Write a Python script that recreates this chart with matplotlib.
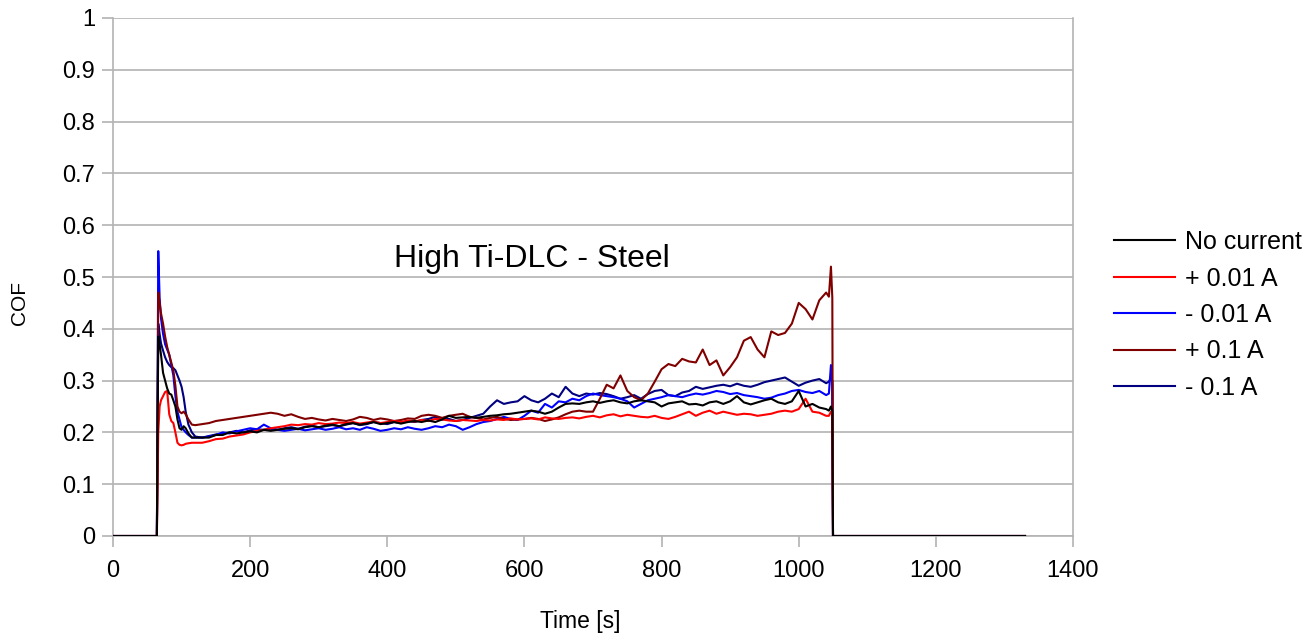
import numpy as np
import matplotlib
matplotlib.use("Agg")
import matplotlib.pyplot as plt

plt.rcParams["font.family"] = ["Liberation Sans", "DejaVu Sans"]

# --- sampling times [s]: start-up, steady sliding, stop ---
t_start = [0, 60, 64, 66, 68, 70, 73, 76, 79, 82, 85, 88, 91, 94, 97, 100, 103, 106, 110, 115, 120]
t_run = list(range(130, 1041, 10))
t_stop = [1044, 1047, 1049, 1050, 1060, 1330]
time_s = np.array(t_start + t_run + t_stop)

# --- COF per test condition ---
cof_none = (
    [0, 0, 0, 0.385, 0.37, 0.35, 0.315, 0.30, 0.285, 0.275, 0.273, 0.262, 0.25, 0.225, 0.208, 0.205, 0.212, 0.208, 0.198, 0.19, 0.19]
    + [0.19, 0.19, 0.195, 0.195, 0.2, 0.198, 0.2, 0.202, 0.2, 0.205,
       0.203, 0.205, 0.207, 0.208, 0.206, 0.21, 0.212, 0.21, 0.213, 0.215,
       0.212, 0.216, 0.218, 0.215, 0.217, 0.22, 0.216, 0.218, 0.22, 0.217,
       0.22, 0.222, 0.22, 0.223, 0.22, 0.225, 0.232, 0.228, 0.229, 0.23,
       0.228, 0.23, 0.232, 0.233, 0.235, 0.236, 0.238, 0.24, 0.242, 0.24,
       0.236, 0.24, 0.248, 0.255, 0.256, 0.255, 0.258, 0.26, 0.257, 0.26,
       0.262, 0.258, 0.256, 0.26, 0.262, 0.26, 0.258, 0.25, 0.256, 0.258,
       0.26, 0.254, 0.255, 0.252, 0.258, 0.26, 0.255, 0.26, 0.27, 0.258,
       0.254, 0.258, 0.262, 0.265, 0.258, 0.255, 0.26, 0.28, 0.25, 0.255,
       0.248, 0.245]
    + [0.242, 0.25, 0.24, 0, 0, 0]
)
cof_p001 = (
    [0, 0, 0, 0.2, 0.25, 0.262, 0.27, 0.278, 0.28, 0.235, 0.222, 0.218, 0.20, 0.18, 0.176, 0.175, 0.176, 0.178, 0.179, 0.18, 0.18]
    + [0.18, 0.183, 0.187, 0.188, 0.192, 0.194, 0.196, 0.2, 0.203, 0.205,
       0.208, 0.21, 0.212, 0.215, 0.214, 0.216, 0.215, 0.218, 0.216, 0.217,
       0.219, 0.218, 0.22, 0.217, 0.219, 0.221, 0.218, 0.22, 0.222, 0.22,
       0.223, 0.221, 0.224, 0.222, 0.226, 0.225, 0.223, 0.222, 0.224, 0.223,
       0.222, 0.224, 0.223, 0.225, 0.224, 0.227, 0.225, 0.226, 0.227, 0.225,
       0.229, 0.227, 0.226, 0.228, 0.229, 0.227, 0.23, 0.232, 0.229, 0.233,
       0.235, 0.231, 0.234, 0.232, 0.23, 0.229, 0.232, 0.228, 0.226, 0.23,
       0.235, 0.24, 0.232, 0.238, 0.242, 0.236, 0.24, 0.237, 0.234, 0.236,
       0.235, 0.232, 0.234, 0.236, 0.24, 0.242, 0.24, 0.245, 0.265, 0.24,
       0.238, 0.232]
    + [0.232, 0.24, 0.235, 0, 0, 0]
)
cof_m001 = (
    [0, 0, 0, 0.55, 0.46, 0.42, 0.39, 0.37, 0.36, 0.35, 0.33, 0.31, 0.27, 0.24, 0.225, 0.21, 0.205, 0.2, 0.195, 0.19, 0.19]
    + [0.19, 0.192, 0.195, 0.2, 0.198, 0.202, 0.205, 0.208, 0.206, 0.215,
       0.208, 0.205, 0.203, 0.205, 0.207, 0.204, 0.206, 0.208, 0.205, 0.207,
       0.21, 0.206, 0.208, 0.205, 0.21, 0.207, 0.203, 0.205, 0.208, 0.206,
       0.21, 0.207, 0.205, 0.208, 0.212, 0.21, 0.215, 0.212, 0.205, 0.21,
       0.216, 0.22, 0.222, 0.226, 0.23, 0.226, 0.224, 0.232, 0.242, 0.238,
       0.255, 0.248, 0.26, 0.258, 0.265, 0.262, 0.27, 0.275, 0.272, 0.27,
       0.268, 0.265, 0.26, 0.248, 0.255, 0.262, 0.265, 0.268, 0.272, 0.27,
       0.268, 0.272, 0.275, 0.273, 0.276, 0.28, 0.278, 0.274, 0.276, 0.272,
       0.27, 0.268, 0.265, 0.267, 0.272, 0.275, 0.28, 0.282, 0.278, 0.276,
       0.28, 0.272]
    + [0.275, 0.33, 0.29, 0, 0, 0]
)
cof_p01 = (
    [0, 0, 0, 0.47, 0.45, 0.43, 0.41, 0.385, 0.365, 0.35, 0.335, 0.32, 0.29, 0.25, 0.24, 0.237, 0.24, 0.235, 0.225, 0.215, 0.214]
    + [0.216, 0.218, 0.222, 0.224, 0.226, 0.228, 0.23, 0.232, 0.234, 0.236,
       0.238, 0.236, 0.232, 0.235, 0.23, 0.226, 0.228, 0.225, 0.223, 0.226,
       0.224, 0.222, 0.225, 0.23, 0.228, 0.224, 0.227, 0.225, 0.222, 0.224,
       0.227, 0.226, 0.232, 0.234, 0.232, 0.228, 0.232, 0.234, 0.236, 0.23,
       0.228, 0.225, 0.228, 0.23, 0.226, 0.224, 0.225, 0.226, 0.228, 0.226,
       0.222, 0.225, 0.229, 0.235, 0.24, 0.242, 0.24, 0.24, 0.265, 0.292,
       0.285, 0.31, 0.28, 0.268, 0.262, 0.275, 0.298, 0.322, 0.332, 0.328,
       0.342, 0.337, 0.335, 0.36, 0.33, 0.339, 0.31, 0.326, 0.345, 0.377,
       0.384, 0.36, 0.345, 0.395, 0.388, 0.392, 0.41, 0.45, 0.438, 0.418,
       0.455, 0.47]
    + [0.462, 0.52, 0.46, 0, 0, 0]
)
cof_m01 = (
    [0, 0, 0, 0.41, 0.39, 0.372, 0.358, 0.345, 0.336, 0.33, 0.326, 0.324, 0.32, 0.31, 0.3, 0.288, 0.268, 0.24, 0.215, 0.2, 0.192]
    + [0.19, 0.193, 0.196, 0.198, 0.2, 0.203, 0.2, 0.204, 0.206, 0.205,
       0.207, 0.205, 0.208, 0.21, 0.207, 0.211, 0.213, 0.21, 0.212, 0.214,
       0.212, 0.215, 0.218, 0.214, 0.216, 0.22, 0.218, 0.216, 0.22, 0.218,
       0.222, 0.22, 0.224, 0.226, 0.23, 0.225, 0.226, 0.222, 0.224, 0.228,
       0.232, 0.236, 0.25, 0.262, 0.255, 0.258, 0.26, 0.27, 0.262, 0.258,
       0.265, 0.275, 0.268, 0.288, 0.275, 0.27, 0.275, 0.273, 0.276, 0.274,
       0.27, 0.265, 0.268, 0.272, 0.265, 0.274, 0.28, 0.282, 0.272, 0.27,
       0.277, 0.28, 0.288, 0.284, 0.287, 0.29, 0.292, 0.289, 0.294, 0.29,
       0.288, 0.292, 0.297, 0.3, 0.303, 0.306, 0.298, 0.29, 0.296, 0.3,
       0.303, 0.295]
    + [0.298, 0.305, 0.3, 0, 0, 0]
)

labels = ["No current", "+ 0.01 A", "- 0.01 A", "+ 0.1 A", "- 0.1 A"]
series = [cof_none, cof_p001, cof_m001, cof_p01, cof_m01]
colors = ["#000000", "#ff0000", "#0000ff", "#800000", "#000080"]
layer = [10, 9, 7, 8, 6]

fig = plt.figure(figsize=(13.13, 6.39), dpi=100)
ax = fig.add_axes([113 / 1313, 1 - 536 / 639, 960 / 1313, 518 / 639])

for vals, lab, col, z in zip(series, labels, colors, layer):
    ax.plot(time_s, vals, color=col, lw=1.5, label=lab, zorder=z)

grid_col = "#b3b3b3"
ax.set_xlim(0, 1400)
ax.set_ylim(0, 1)
ax.set_xticks(range(0, 1401, 200))
ax.set_yticks(np.arange(0, 1.01, 0.1))
ax.set_yticklabels(["0", "0.1", "0.2", "0.3", "0.4", "0.5", "0.6", "0.7", "0.8", "0.9", "1"])
ax.yaxis.grid(True, color=grid_col, lw=1.2)
ax.set_axisbelow(True)
for side in ["left", "right", "bottom"]:
    ax.spines[side].set_color(grid_col)
    ax.spines[side].set_linewidth(1.2)
ax.spines["top"].set_visible(False)
ax.tick_params(axis="both", colors=grid_col, labelcolor="black", labelsize=17,
               length=8, width=1.2)
ax.tick_params(axis="x", pad=9)
ax.tick_params(axis="y", pad=5)

ax.set_xlabel("Time [s]", fontsize=16.5)
ax.set_ylabel("COF", fontsize=15)
ax.xaxis.set_label_coords(0.487, -0.143)
ax.yaxis.set_label_coords(-0.088, 0.45)

ax.text(0.4365, 0.535, "High Ti-DLC - Steel", transform=ax.transAxes,
        ha="center", va="center", fontsize=23)

fig.legend(loc="center left", bbox_to_anchor=(1101 / 1313, 1 - 315 / 639),
           frameon=False, fontsize=18, handlelength=2.45, handletextpad=0.4,
           labelspacing=0.5, borderpad=0)

fig.savefig("out.png", dpi=100)
